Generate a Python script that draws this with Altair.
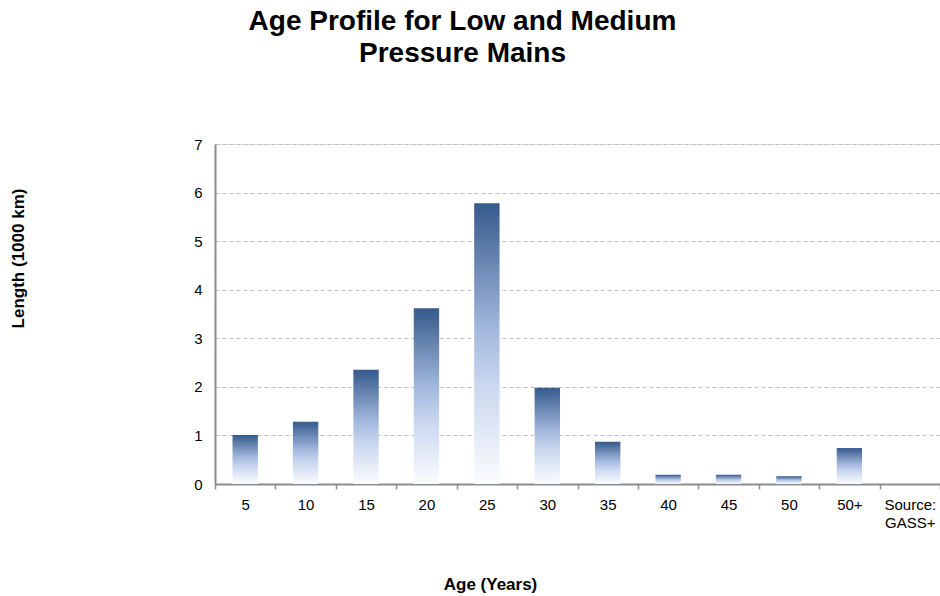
import altair as alt
import pandas as pd

ages = ["5", "10", "15", "20", "25", "30", "35", "40", "45", "50", "50+"]
lengths = [1.01, 1.28, 2.35, 3.62, 5.78, 1.98, 0.87, 0.19, 0.19, 0.16, 0.74]
x_domain = ages + ["Source: GASS+"]
y_ticks = [0, 1, 2, 3, 4, 5, 6, 7]

df = pd.DataFrame({"Age": ages, "Length": lengths})

FONT = "Liberation Sans"

gradient = alt.Gradient(
    gradient="linear",
    x1=0, y1=0, x2=0, y2=1,
    stops=[
        alt.GradientStop(offset=0, color="#355A8C"),
        alt.GradientStop(offset=0.45, color="#A3B8DD"),
        alt.GradientStop(offset=0.65, color="#CAD7EF"),
        alt.GradientStop(offset=1, color="#FBFCFE"),
    ],
)

chart = (
    alt.Chart(df)
    .mark_bar(color=gradient, width=alt.RelativeBandSize(0.42))
    .encode(
        x=alt.X(
            "Age:N",
            scale=alt.Scale(domain=x_domain, paddingInner=0, paddingOuter=0),
            axis=alt.Axis(
                title="Age (Years)",
                labelAngle=0,
                labelFont=FONT,
                labelFontSize=15,
                labelColor="#000000",
                labelPadding=8,
                labelLineHeight=18,
                labelExpr="datum.label == 'Source: GASS+' ? ['Source:', 'GASS+'] : datum.label",
                tickBand="extent",
                tickSize=5,
                tickColor="#8C8C8C",
                tickWidth=1.5,
                domainColor="#8C8C8C",
                domainWidth=2,
                grid=False,
                titleFont=FONT,
                titleFontSize=17,
                titleFontWeight="bold",
                titleColor="#000000",
                titleX=275,
                titleY=100,
                titleAlign="center",
                titleBaseline="middle",
            ),
        ),
        y=alt.Y(
            "Length:Q",
            scale=alt.Scale(domain=[0, 7], nice=False),
            axis=alt.Axis(
                title="Length (1000 km)",
                values=y_ticks,
                format="d",
                ticks=False,
                labelFont=FONT,
                labelFontSize=15,
                labelColor="#000000",
                labelPadding=13,
                domainColor="#8C8C8C",
                domainWidth=2,
                grid=True,
                gridColor="#BFBFBF",
                gridDash=[4, 3],
                gridWidth=1,
                titleFont=FONT,
                titleFontSize=17,
                titleFontWeight="bold",
                titleColor="#000000",
                titleX=-197,
                titleY=114,
                titleAngle=-90,
                titleAlign="center",
                titleBaseline="middle",
            ),
        ),
    )
    .properties(
        width=725,
        height=340,
        title=alt.TitleParams(
            text=["Age Profile for Low and Medium", "Pressure Mains"],
            font=FONT,
            fontSize=28,
            fontWeight="bold",
            color="#000000",
            anchor="middle",
            frame="group",
            dx=-115,
            offset=69,
            lineHeight=32,
        ),
        autosize=alt.AutoSizeParams(type="none"),
        padding={"left": 215, "top": 144, "right": 0, "bottom": 112},
    )
    .configure_view(stroke=None)
    .configure(background="#FFFFFF")
)

chart.save("out.html", embed_options={"renderer": "svg", "actions": False})
